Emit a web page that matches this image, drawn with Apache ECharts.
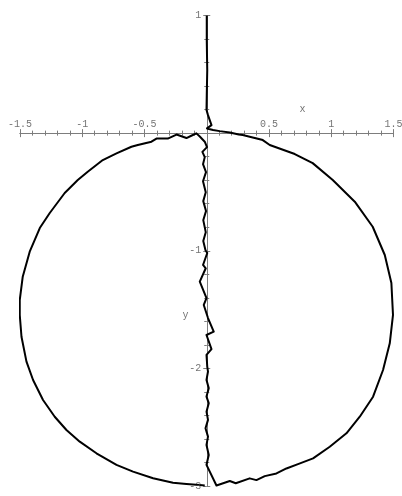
<!DOCTYPE html>
<html>
<head>
<meta charset="utf-8">
<script src="https://cdn.jsdelivr.net/npm/echarts@6/dist/echarts.min.js"></script>
<style>
  html, body { margin: 0; padding: 0; background: #fff; }
  #chart { width: 402px; height: 496px; }
</style>
</head>
<body>
<div id="chart"></div>
<script>
// Vertical stem from (0, 1) down to the origin, then the right half of the loop
const stemAndRightArc = [
  [0, 1], [0, 0.79], [0.004, 0.536], [0, 0.323], [-0.002, 0.196], [0.010, 0.153],
  [0.038, 0.068], [0.002, 0.040], [0.051, 0.026], [0.104, 0.017], [0.185, 0.006],
  [0.257, -0.011], [0.289, -0.016], [0.450, -0.059], [0.506, -0.101], [0.707, -0.178],
  [0.851, -0.255], [1.012, -0.399], [1.189, -0.583], [1.333, -0.796], [1.430, -1.036],
  [1.483, -1.274], [1.496, -1.546], [1.470, -1.787], [1.416, -2.014], [1.336, -2.241],
  [1.229, -2.411], [1.122, -2.552], [0.988, -2.666], [0.854, -2.765], [0.733, -2.814],
  [0.640, -2.851], [0.560, -2.893], [0.466, -2.916], [0.399, -2.950], [0.345, -2.935],
  [0.233, -2.977], [0.185, -2.958], [0.078, -2.996]
];

// Jagged spine climbing back up along the y axis
const spine = [
  [-0.002, -2.820], [0.016, -2.736], [-0.002, -2.651], [0.010, -2.580], [-0.010, -2.509],
  [0.010, -2.438], [-0.002, -2.368], [0.016, -2.296], [-0.002, -2.240], [0.016, -2.168],
  [-0.002, -2.098], [0.010, -2.027], [0.004, -1.985], [-0.002, -1.885], [0.038, -1.837],
  [-0.002, -1.716], [0.056, -1.688], [0.010, -1.572], [-0.024, -1.461], [-0.002, -1.402],
  [-0.056, -1.263], [-0.008, -1.149], [-0.030, -1.121], [0.004, -1.019], [-0.010, -0.996],
  [-0.028, -0.918], [-0.008, -0.842], [-0.028, -0.740], [-0.006, -0.663], [-0.028, -0.578],
  [-0.008, -0.502], [-0.030, -0.409], [-0.006, -0.332], [-0.030, -0.264], [-0.016, -0.204],
  [-0.035, -0.159], [0.002, -0.119], [-0.016, -0.073], [-0.056, -0.029], [-0.083, -0.002]
];

// Left half of the loop, from the top down to the bottom
const leftArc = [
  [-0.120, -0.020], [-0.163, -0.042], [-0.243, -0.012], [-0.313, -0.046], [-0.404, -0.046],
  [-0.444, -0.073], [-0.554, -0.101], [-0.605, -0.116], [-0.725, -0.172], [-0.835, -0.229],
  [-0.956, -0.328], [-1.036, -0.399], [-1.141, -0.509], [-1.261, -0.679], [-1.341, -0.807],
  [-1.422, -1.008], [-1.478, -1.221], [-1.502, -1.419], [-1.502, -1.546], [-1.488, -1.731],
  [-1.448, -1.943], [-1.395, -2.099], [-1.315, -2.269], [-1.221, -2.411], [-1.127, -2.524],
  [-1.020, -2.623], [-0.886, -2.722], [-0.725, -2.821], [-0.592, -2.878], [-0.431, -2.934],
  [-0.271, -2.972], [-0.163, -2.983], [-0.056, -2.992], [-0.016, -2.996]
];

const xTickValues = [-1.5, -1, -0.5, 0.5, 1, 1.5];
const xTickLabels = ['-1.5', '-1', '-0.5', '0.5', '1', '1.5'];
const yTickValues = [1, -1, -2, -3];
const yTickLabels = ['1', '-1', '-2', '-3'];

// Where the axis names sit, in data units
const xNameAt = [0.77, 0.2];
const yNameAt = [-0.17, -1.55];

const curve = stemAndRightArc.concat(spine, leftArc);

const AXIS_GRAY = '#7d7d7d';
const TEXT_GRAY = '#505050';
const MONO = '"Liberation Mono", "DejaVu Sans Mono", monospace';

// Two overlapping axes per direction so every tick crosses the axis line
function xAxisDef(position) {
  return {
    type: 'value', min: -1.5, max: 1.5, interval: 0.5, position: position,
    axisLine: { onZero: true, onZeroAxisIndex: 0, lineStyle: { color: AXIS_GRAY, width: 1 } },
    axisTick: { show: true, length: 4, lineStyle: { color: AXIS_GRAY, width: 1 } },
    minorTick: { show: true, splitNumber: 5, length: 2.5, lineStyle: { color: AXIS_GRAY, width: 1 } },
    splitLine: { show: false },
    axisLabel: { show: false }
  };
}
function yAxisDef(position) {
  return {
    type: 'value', min: -3, max: 1, interval: 1, position: position,
    axisLine: { onZero: true, onZeroAxisIndex: 0, lineStyle: { color: AXIS_GRAY, width: 1 } },
    axisTick: { show: true, length: 3.5, lineStyle: { color: AXIS_GRAY, width: 1 } },
    minorTick: { show: true, splitNumber: 5, length: 2.5, lineStyle: { color: AXIS_GRAY, width: 1 } },
    splitLine: { show: false },
    axisLabel: { show: false }
  };
}

// Tick labels ride on the zero lines, placed through the axes' own scales
function textMarks(items, position, distance) {
  return {
    type: 'scatter', xAxisIndex: 0, yAxisIndex: 0, silent: true,
    symbolSize: 1, itemStyle: { color: 'rgba(0,0,0,0)' },
    data: items,
    label: {
      show: true, position: position, distance: distance,
      formatter: function (p) { return p.name; },
      fontFamily: MONO, fontSize: 10, color: TEXT_GRAY
    },
    z: 3
  };
}

const xLabelItems = xTickValues.map(function (v, i) { return { name: xTickLabels[i], value: [v, 0] }; });
const yLabelItems = yTickValues.map(function (v, i) { return { name: yTickLabels[i], value: [0, v] }; });
const nameItems = [
  { name: 'x', value: xNameAt },
  { name: 'y', value: yNameAt }
];

const chart = echarts.init(document.getElementById('chart'), null, { renderer: 'canvas' });
chart.setOption({
  animation: false,
  backgroundColor: '#fff',
  grid: { left: 20, right: 8.5, top: 15.5, bottom: 10, containLabel: false },
  xAxis: [xAxisDef('bottom'), xAxisDef('top')],
  yAxis: [yAxisDef('left'), yAxisDef('right')],
  series: [
    {
      type: 'line',
      xAxisIndex: 0, yAxisIndex: 0,
      data: curve,
      showSymbol: false,
      symbol: 'none',
      smooth: false,
      clip: false,
      lineStyle: { color: '#000', width: 2, join: 'round' },
      z: 2
    },
    textMarks(xLabelItems, 'top', 3),
    textMarks(yLabelItems, 'left', 5),
    textMarks(nameItems, 'inside', 0)
  ]
});
</script>
</body>
</html>
